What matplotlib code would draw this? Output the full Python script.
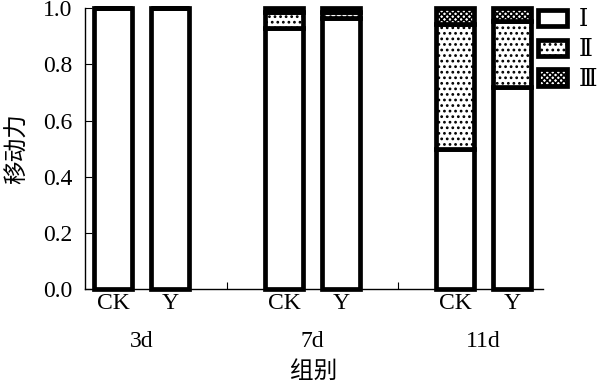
import matplotlib
matplotlib.use('Agg')
import matplotlib.pyplot as plt
from matplotlib.patches import Patch

plt.rcParams['font.family'] = ['Liberation Serif', 'Noto Sans CJK SC']
plt.rcParams['hatch.linewidth'] = 1.2

# 数据
groups = ['3d', '7d', '11d']
treatments = ['CK', 'Y']
positions = [1, 2, 4, 5, 7, 8]
bar_labels = ['CK', 'Y', 'CK', 'Y', 'CK', 'Y']
level1 = [1.0, 1.0, 0.93, 0.965, 0.50, 0.72]
level2 = [0.0, 0.0, 0.055, 0.02, 0.445, 0.235]
level3 = [0.0, 0.0, 0.015, 0.015, 0.055, 0.045]
legend_labels = ['Ⅰ', 'Ⅱ', 'Ⅲ']

fig = plt.figure(figsize=(6, 3.85), dpi=100)
ax = fig.add_axes([0.1417, 0.249, 0.763, 0.730])

fs = 17
w = 0.68
lw = 3.4
b2 = [a + b for a, b in zip(level1, level2)]
ax.bar(positions, level1, w, color='white', edgecolor='black', linewidth=lw, clip_on=False, zorder=3)
ax.bar(positions, level2, w, bottom=level1, color='white', edgecolor='black', hatch='...', linewidth=lw, clip_on=False, zorder=3)
ax.bar(positions, level3, w, bottom=b2, color='white', edgecolor='black', hatch='xxxxxx', linewidth=lw, clip_on=False, zorder=3)

ax.set_xlim(0.51, 8.54)
ax.set_ylim(0, 1.0)
ax.set_yticks([0, 0.2, 0.4, 0.6, 0.8, 1.0])
ax.set_yticklabels(['0.0', '0.2', '0.4', '0.6', '0.8', '1.0'], fontsize=fs)
ax.set_xticks([1, 2, 3, 4, 5, 6, 7, 8])
ax.set_xticklabels(['CK', 'Y', '', 'CK', 'Y', '', 'CK', 'Y'], fontsize=fs)
ax.tick_params(direction='in', length=5, width=0.8)
ax.tick_params(axis='y', pad=9)
ax.tick_params(axis='x', pad=3)
ax.spines['top'].set_visible(False)
ax.spines['right'].set_visible(False)
for s in ['left', 'bottom']:
    ax.spines[s].set_linewidth(1.0)

for i, g in enumerate(groups):
    ax.text(1.5 + 3 * i, -0.185, g, ha='center', va='center', fontsize=fs,
            transform=ax.get_xaxis_transform())

ax.set_xlabel('组别', fontsize=fs)
ax.xaxis.set_label_coords(0.5, -0.295)
ax.xaxis.label.set_va('center')
ax.set_ylabel('移动力', fontsize=fs, labelpad=10)

handles = [Patch(facecolor='white', edgecolor='black', linewidth=lw),
           Patch(facecolor='white', edgecolor='black', linewidth=lw, hatch='...'),
           Patch(facecolor='white', edgecolor='black', linewidth=lw, hatch='xxxxxx')]
leg = fig.legend(handles, legend_labels, loc='upper left', bbox_to_anchor=(0.897, 0.978),
                 frameon=False, fontsize=fs, handlelength=1.2, handleheight=0.7,
                 labelspacing=0.28, handletextpad=0.5, borderpad=0, borderaxespad=0)
for t in leg.get_texts():
    t.set_fontfamily(['DejaVu Serif', 'Noto Sans CJK SC'])

fig.savefig('out.png', dpi=100)
